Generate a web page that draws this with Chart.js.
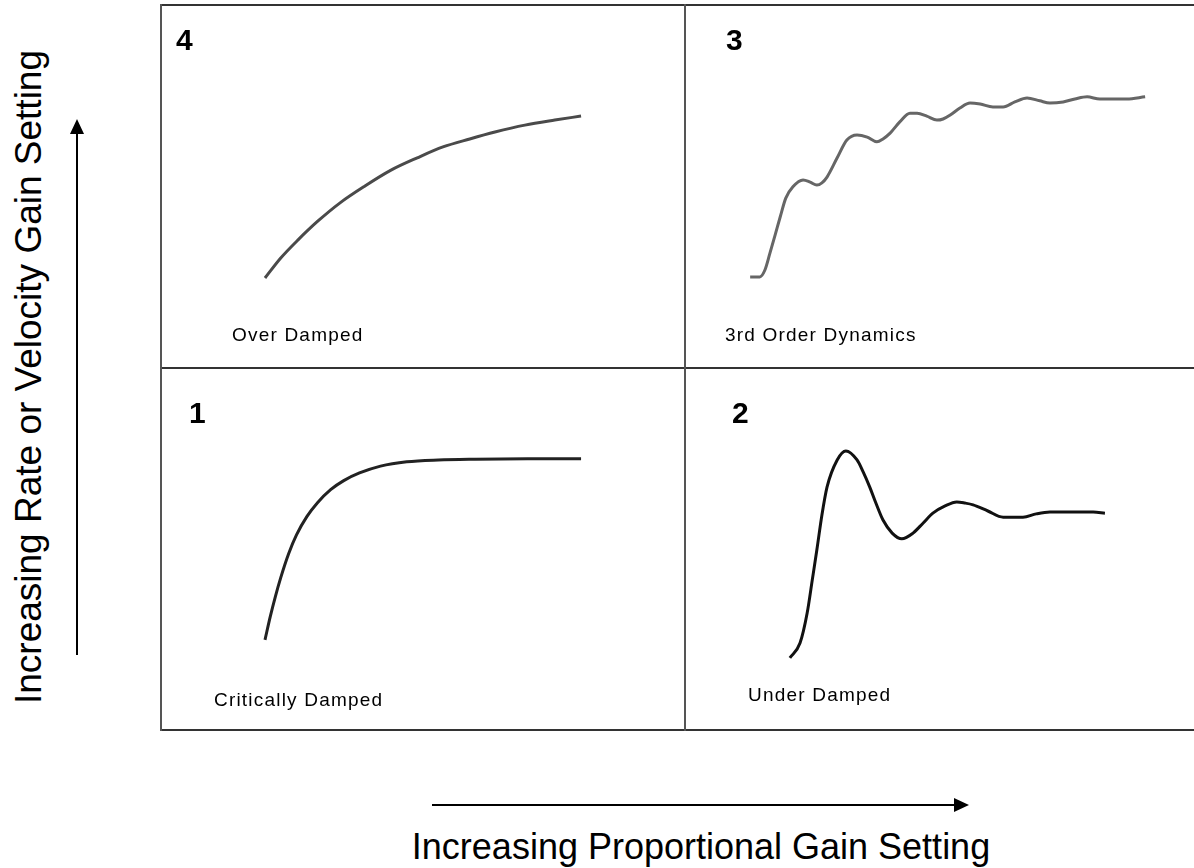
<!DOCTYPE html>
<html>
<head>
<meta charset="utf-8">
<script src="https://cdn.jsdelivr.net/npm/chart.js@4/dist/chart.umd.min.js"></script>
<style>
  body { margin: 0; background: #fff; width: 1194px; height: 868px; overflow: hidden; position: relative; font-family: "Liberation Sans", Arial, sans-serif; }
  .line { position: absolute; background: #333; z-index: 2; }
  .vline { background: #555; }
  canvas { position: absolute; z-index: 1; }
  .num { position: absolute; font-size: 30px; line-height: 30px; font-weight: bold; color: #000; z-index: 3; }
  .lbl { position: absolute; font-size: 19px; line-height: 19px; letter-spacing: 1.2px; color: #000; white-space: nowrap; z-index: 3; }
  .title { position: absolute; font-size: 36px; line-height: 40px; color: #000; text-align: center; white-space: nowrap; }
  svg { position: absolute; left: 0; top: 0; }
</style>
</head>
<body>

<div class="line" style="left:160px;top:4px;width:1040px;height:2px"></div>
<div class="line" style="left:160px;top:367px;width:1040px;height:2px"></div>
<div class="line" style="left:160px;top:729px;width:1040px;height:2px"></div>
<div class="line vline" style="left:160px;top:4px;width:2px;height:727px"></div>
<div class="line vline" style="left:684px;top:4px;width:2px;height:727px"></div>

<canvas id="panel4" width="525" height="363" style="left:160px;top:5px"></canvas>
<canvas id="panel3" width="509" height="363" style="left:685px;top:5px"></canvas>
<canvas id="panel1" width="525" height="362" style="left:160px;top:368px"></canvas>
<canvas id="panel2" width="509" height="362" style="left:685px;top:368px"></canvas>

<div class="num" style="left:176px;top:25px">4</div>
<div class="num" style="left:726px;top:25px">3</div>
<div class="num" style="left:189px;top:398px">1</div>
<div class="num" style="left:732px;top:398px">2</div>

<div class="lbl" style="left:232px;top:325px">Over Damped</div>
<div class="lbl" style="left:725px;top:325px">3rd Order Dynamics</div>
<div class="lbl" style="left:214px;top:690px">Critically Damped</div>
<div class="lbl" style="left:748px;top:685px">Under Damped</div>

<div class="title" style="left:-321px;top:357px;width:700px;height:40px;font-size:37px;transform:rotate(-90deg)">Increasing Rate or Velocity Gain Setting</div>
<div class="title" style="left:201px;top:827px;width:1000px;height:40px">Increasing Proportional Gain Setting</div>

<svg width="1194" height="868">
  <line x1="77" y1="655" x2="77" y2="132" stroke="#000" stroke-width="2"/>
  <polygon points="70,134 84,134 77,119" fill="#000"/>
  <line x1="432" y1="805" x2="955" y2="805" stroke="#000" stroke-width="2"/>
  <polygon points="954,798 954,812 969,805" fill="#000"/>
</svg>

<script>
// each panel: x = 0..100 across the cell, y = 0..100 up the cell

// 4 - over damped
const overX = [20.0, 23.0, 26.3, 30.1, 34.3, 39.0, 44.0, 49.0, 53.9, 59.0, 63.8, 69.5, 75.2, 80.2];
const overY = [24.8, 30.3, 35.3, 40.5, 45.5, 50.1, 54.5, 57.9, 60.9, 63.1, 65.0, 66.9, 68.3, 69.4];

// 3 - 3rd order dynamics
const thirdX = [12.8, 14.7, 15.7, 16.7, 17.7, 18.7, 19.8, 21.2, 23.2, 24.6, 25.9, 26.9, 27.9, 29.9, 31.8,
  33.8, 35.8, 37.7, 38.9, 40.3, 42.2, 44.2, 45.6, 47.5, 49.5, 50.7, 52.1, 54.0, 56.0, 58.0, 60.5,
  62.5, 64.8, 67.2, 69.7, 71.7, 74.3, 76.6, 79.0, 81.5, 86.8, 90.4];
const thirdY = [25.1, 25.1, 27.0, 31.7, 36.6, 41.6, 46.8, 49.9, 51.8, 51.2, 50.4, 51.0, 52.6, 57.9, 62.8,
  64.2, 63.6, 62.3, 63.1, 64.7, 67.8, 70.2, 70.2, 69.4, 68.3, 68.6, 69.7, 71.6, 73.0, 72.7, 71.9,
  71.9, 73.3, 74.4, 73.6, 73.0, 73.3, 74.1, 74.7, 74.1, 74.1, 74.7];

// 1 - critically damped
const criticalX = [20.0, 21.0, 22.0, 23.0, 24.5, 26.0, 28.0, 30.0, 32.5, 35.0, 38.0, 42.0, 47.0, 53.0, 60.0, 70.0, 80.2];
const criticalY = [24.9, 31.3, 37.0, 42.1, 48.7, 53.9, 59.0, 62.8, 66.4, 68.9, 71.0, 72.9, 74.1, 74.6, 74.8, 74.9, 74.9];

// 2 - under damped
const underX = [20.6, 22.6, 24.0, 25.0, 25.9, 26.9, 27.9, 29.9, 31.6, 33.8, 35.0, 36.3, 37.5, 38.9, 40.7,
  42.6, 44.8, 46.8, 48.7, 51.1, 53.4, 55.0, 56.6, 59.5, 62.5, 66.4, 69.0, 71.7, 75.6, 80.2, 82.5];
const underY = [19.9, 24.0, 32.3, 41.4, 49.7, 59.4, 67.1, 74.6, 77.1, 74.6, 71.3, 67.1, 62.7, 58.0, 54.4,
  52.8, 54.4, 57.2, 59.9, 61.9, 63.0, 62.7, 62.2, 60.5, 58.8, 58.8, 59.7, 60.2, 60.2, 60.2, 59.9];

function drawPanel(id, xs, ys, color) {
  new Chart(document.getElementById(id), {
    type: "line",
    data: {
      datasets: [
        {
          data: xs.map((x, i) => ({ x: x, y: ys[i] })),
          borderColor: color,
          borderWidth: 3,
          pointRadius: 0,
          cubicInterpolationMode: "monotone",
          fill: false,
        },
      ],
    },
    options: {
      responsive: false,
      animation: false,
      devicePixelRatio: 1,
      layout: { padding: 0 },
      plugins: { legend: { display: false }, tooltip: { enabled: false } },
      scales: {
        x: { type: "linear", min: 0, max: 100, display: false },
        y: { min: 0, max: 100, display: false },
      },
    },
  });
}

drawPanel("panel4", overX, overY, "#4a4a4a");
drawPanel("panel3", thirdX, thirdY, "#666666");
drawPanel("panel1", criticalX, criticalY, "#222222");
drawPanel("panel2", underX, underY, "#111111");
</script>
</body>
</html>
